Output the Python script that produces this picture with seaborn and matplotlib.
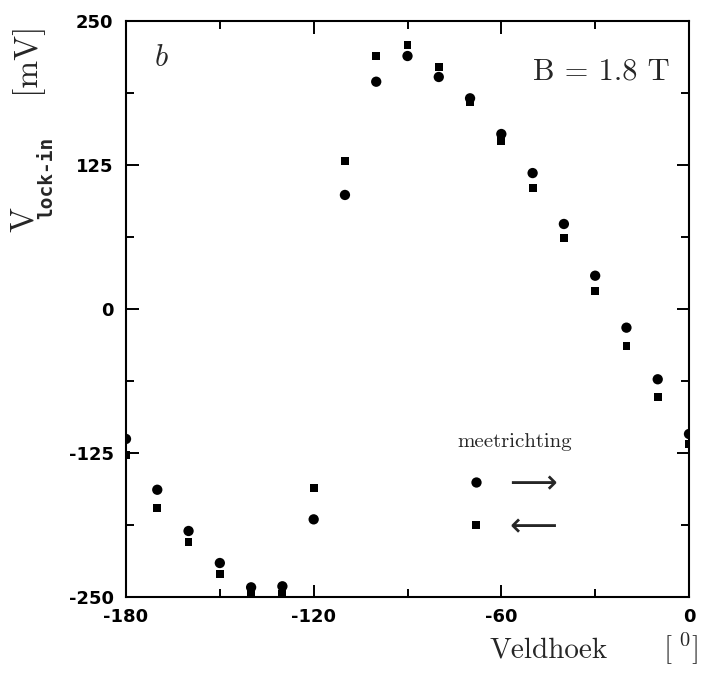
import pandas as pd
import numpy as np
import matplotlib
matplotlib.use("Agg")
import matplotlib.pyplot as plt
import seaborn as sns
from matplotlib.ticker import MultipleLocator

# Veldhoek in graden
hoek = [-180, -170, -160, -150, -140, -130, -120, -110, -100, -90,
        -80, -70, -60, -50, -40, -30, -20, -10, 0]
# lock-in spanning (mV), meetrichting heen (cirkels) en terug (vierkantjes)
v_heen = [-112.8, -156.9, -192.7, -220.5, -241.6, -240.7, -182.6, 99.0, 197.3, 219.6,
          201.4, 182.9, 151.9, 118.0, 73.8, 28.9, -16.2, -61.0, -108.5]
v_terug = [-126.7, -172.5, -202.5, -230.3, -247.0, -247.0, -155.6, 128.2, 219.9, 229.2,
           209.8, 180.0, 146.1, 104.8, 61.6, 15.4, -32.1, -76.6, -117.2]
heen = "\u27f6"
terug = "\u27f5"

df = pd.concat([
    pd.DataFrame({'hoek': hoek, 'V': v_heen, 'richting': heen}),
    pd.DataFrame({'hoek': hoek, 'V': v_terug, 'richting': terug}),
], ignore_index=True)

sns.set_style("ticks")
plt.rcParams['font.family'] = ['DejaVu Sans']
plt.rcParams['mathtext.fontset'] = 'cm'
plt.rcParams['axes.unicode_minus'] = False

fig = plt.figure(figsize=(7.04, 6.8), dpi=100)
ax = fig.add_axes([126 / 704, 1 - 597 / 680, 563 / 704, 576 / 680])

sns.scatterplot(data=df, x='hoek', y='V', style='richting', size='richting',
                markers={heen: 'o', terug: 's'}, sizes={heen: 55, terug: 32},
                color='black', linewidth=0, ax=ax)

ax.set_xlim(-180, 0)
ax.set_ylim(-250, 250)
ax.set_xticks([-180, -120, -60, 0])
ax.set_yticks([-250, -125, 0, 125, 250])
ax.xaxis.set_minor_locator(MultipleLocator(30))
ax.yaxis.set_minor_locator(MultipleLocator(62.5))
ax.tick_params(which='both', direction='in', top=True, right=True, width=1.4,
               labelsize=13, color='black', labelcolor='black')
ax.tick_params(which='major', length=9)
ax.tick_params(axis='x', which='major', pad=8)
ax.tick_params(axis='y', which='major', pad=9)
ax.tick_params(which='minor', length=5.5)
for lab in ax.get_xticklabels() + ax.get_yticklabels():
    lab.set_fontweight('bold')
for sp in ax.spines.values():
    sp.set_linewidth(1.5)
    sp.set_color('black')
ax.set_xlabel('')
ax.set_ylabel('')

# legenda: meetrichting
old = ax.get_legend()
handles = old.legend_handles
labels = [t.get_text() for t in old.get_texts()]
ax.legend(handles, labels, loc='center',
          bbox_to_anchor=(0.682, 0.159), frameon=False,
          prop={'family': 'DejaVu Sans', 'size': 24},
          handlelength=0.8, handletextpad=0.6, labelspacing=0.3, borderpad=0)
fig.text(457 / 704, 1 - 447 / 680, 'meetrichting', family='cmr10', size=15,
         va='baseline')

# teksten
fig.text(161 / 704, 1 - 57 / 680, r'$b$', size=22, ha='center', va='center')
fig.text(670 / 704, 1 - 80 / 680, 'B = 1.8 T', family='cmr10', size=22,
         ha='right', va='baseline')
fig.text(490 / 704, 1 - 657 / 680, 'Veldhoek', family='cmr10', size=21, va='baseline')
fig.text(663 / 704, 1 - 657 / 680, r'$[\;^{0}]$', size=21, va='baseline')

# y-as label in stukken
fig.text(24 / 704, 1 - 220 / 680, 'V', family='cmr10', size=24, rotation=90,
         ha='center', va='center')
fig.text(47 / 704, 1 - 178 / 680, 'lock-in', family='DejaVu Sans Mono', weight='bold',
         size=14, rotation=90, ha='center', va='center')
fig.text(26 / 704, 1 - 57 / 680, '[mV]', family='cmr10', size=24, rotation=90,
         ha='center', va='center')

fig.savefig('out.png', dpi=100)
